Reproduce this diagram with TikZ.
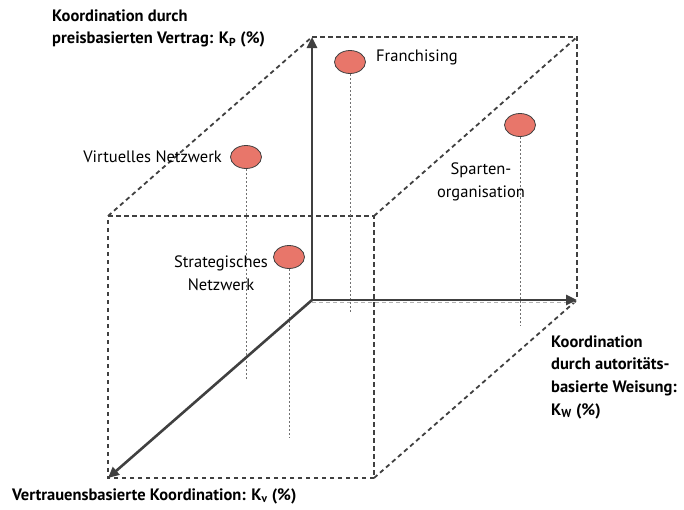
\documentclass[tikz,border=0pt]{standalone}
\usepackage{fontspec}
\setmainfont{PT Sans}
\usetikzlibrary{arrows.meta,shapes.geometric}
\definecolor{axisgray}{HTML}{404040}
\definecolor{dropgray}{HTML}{707070}
\definecolor{dotred}{HTML}{E8766A}
\tikzset{
  axis/.style={line width=2.6pt, draw=axisgray, -{Triangle[length=11pt,width=10pt]}},
  edge/.style={line width=1.8pt, draw=axisgray, dash pattern=on 4.5pt off 3.5pt},
  faint/.style={line width=0.9pt, draw=gray!60, dash pattern=on 4pt off 3pt},
  drop/.style={line width=0.9pt, draw=dropgray, dash pattern=on 2pt off 2pt},
  dot/.style={ellipse, draw=axisgray, line width=0.8pt, fill=dotred, minimum width=31pt, minimum height=23pt, inner sep=0pt},
  lbl/.style={font=\fontsize{16.5}{23}\selectfont, inner sep=0pt, align=center},
  axlbl/.style={font=\fontsize{16.5}{22.7}\selectfont\bfseries, inner sep=0pt, align=left},
}
\begin{document}
\begin{tikzpicture}[x=1pt,y=-1pt]
\useasboundingbox (0,0) rectangle (684,509);
% cube corners
\coordinate (O) at (312,300);
\coordinate (P) at (312,37);
\coordinate (W) at (577,300);
\coordinate (BTR) at (577,37);
\coordinate (V) at (108,478);
\coordinate (FTL) at (108,216);
\coordinate (FTR) at (374,216);
\coordinate (FBR) at (374,478);

% dashed cube edges
\draw[edge] (P) -- (BTR) -- (W);
\draw[edge] (FTL) -- (P);
\draw[edge] (FTR) -- (BTR);
\draw[edge] (FBR) -- (W);
\draw[edge] (FTL) -- (FTR) -- (FBR) -- (V) -- (FTL);
\draw[faint] ([yshift=-2pt]O) -- ([yshift=-2pt]W);

% positions of the organisational forms
\node[dot] (fr) at (350,62) {};
\node[dot] (sp) at (520,125) {};
\node[dot] (vn) at (246,157) {};
\node[dot] (sn) at (289,257) {};
\coordinate (frb) at (350,313);
\coordinate (spb) at (520,325);
\coordinate (vnb) at (246,380);
\coordinate (snb) at (289,437);
\draw[drop] (fr.south) -- (frb);
\draw[drop] (sp.south) -- (spb);
\draw[drop] (vn.south) -- (vnb);
\draw[drop] (sn.south) -- (snb);

% axes
\draw[axis] (O) -- (P);
\draw[axis] (O) -- (W);
\draw[axis] (O) -- (V);

% labels
\node[lbl, anchor=west] (frl) at (376,57) {Franchising};
\node[lbl, anchor=east] (vnl) at (222,157) {Virtuelles Netzwerk};
\node[lbl] (snl) at (221,273.5) {Strategisches\\Netzwerk};
\node[lbl] (spl) at (481,182) {Sparten-\\organisation};

\node[axlbl, anchor=west] (kp) at (52,28.5) {Koordination durch\\preisbasierten Vertrag: K\textsubscript{P} (\%)};
\node[axlbl, anchor=west] (kw) at (551,377) {Koordination\\durch autoritäts-\\basierte Weisung:\\K\textsubscript{W} (\%)};
\node[axlbl, anchor=west] (kv) at (12,496) {Vertrauensbasierte Koordination: K\textsubscript{v} (\%)};
\end{tikzpicture}
\end{document}
